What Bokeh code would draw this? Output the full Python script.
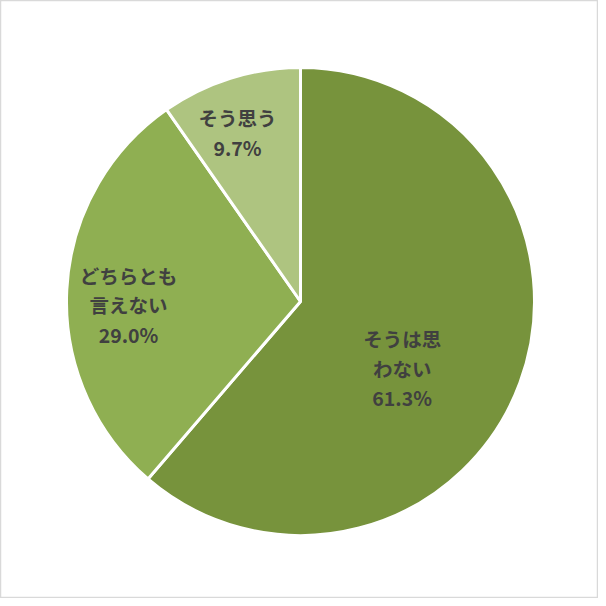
import math
from bokeh.plotting import figure
from bokeh.models import ColumnDataSource, Range1d
from bokeh.core.properties import value
from bokeh.embed import file_html
from bokeh.resources import INLINE

# Data
categories = ["そうは思わない", "どちらとも言えない", "そう思う"]
label_lines = ["そうは思\nわない", "どちらとも\n言えない", "そう思う"]
values = [61.3, 29.0, 9.7]
colors = ["#77933C", "#8FAF52", "#AEC480"]

# Layout / style
W = H = 598
cx, cy = 300, 297
R = 234
label_r = [0.52, 0.735, 0.77]
label_nudge_deg = [13, -4, -3]

total = sum(values)
starts, ends, lx, ly, texts = [], [], [], [], []
cum = 0.0
for i, v in enumerate(values):
    a0 = math.pi / 2 - 2 * math.pi * cum / total
    cum += v
    a1 = math.pi / 2 - 2 * math.pi * cum / total
    starts.append(a0)
    ends.append(a1)
    mid = (a0 + a1) / 2 - math.radians(label_nudge_deg[i])
    lx.append(cx + label_r[i] * R * math.cos(mid))
    ly.append(cy + label_r[i] * R * math.sin(mid))
    texts.append(f"{label_lines[i]}\n{v:.1f}%")

src = ColumnDataSource(dict(cat=categories, start=starts, end=ends, color=colors,
                            x=[cx] * 3, y=[cy] * 3))
lsrc = ColumnDataSource(dict(x=lx, y=ly, text=texts))

p = figure(width=W, height=H, output_backend="svg", toolbar_location=None,
           x_range=Range1d(0, W), y_range=Range1d(0, H), min_border=0)
p.axis.visible = False
p.grid.visible = False
p.outline_line_color = "#D9D9D9"
p.outline_line_width = 1.5
p.background_fill_color = "white"

p.wedge(x="x", y="y", radius=R, start_angle="start", end_angle="end",
        direction="clock", fill_color="color", line_color="white",
        line_width=3, source=src)

p.text(x="x", y="y", text="text", source=lsrc, text_align="center",
       text_baseline="middle", text_font=value("Noto Sans CJK JP"),
       text_font_style="bold", text_font_size="19.5px", text_color="#404040",
       text_line_height=1.02)

open("out.html", "w").write(file_html(p, INLINE))
